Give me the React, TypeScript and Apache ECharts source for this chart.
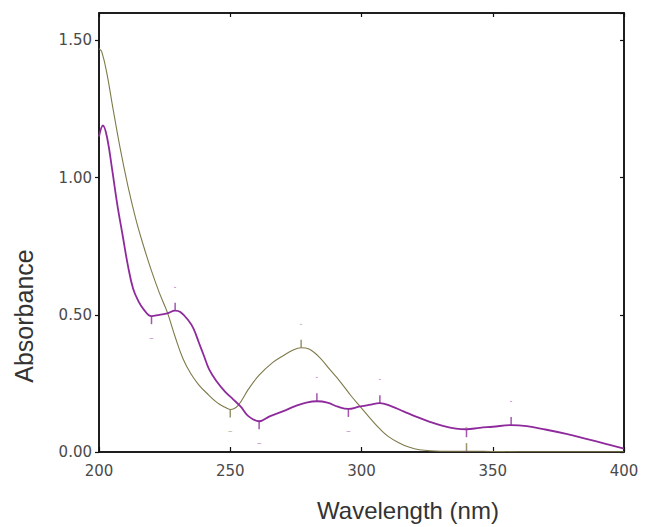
import React, { useEffect, useRef } from "react";
import * as echarts from "echarts";

// Olive (brown-green) spectrum
const oliveX = [200, 201, 203, 205, 208, 211, 214, 217, 220, 223, 226, 229, 232, 235, 238, 241, 245, 248, 250, 253, 257, 261, 266, 270, 274, 277, 280, 284, 288, 292, 296, 300, 304, 307, 310, 314, 318, 322, 330, 340, 350, 360, 380, 400];
const oliveY = [1.47, 1.46, 1.38, 1.27, 1.11, 0.97, 0.85, 0.75, 0.66, 0.58, 0.51, 0.42, 0.34, 0.285, 0.245, 0.215, 0.18, 0.163, 0.155, 0.17, 0.23, 0.28, 0.325, 0.35, 0.372, 0.38, 0.375, 0.345, 0.3, 0.255, 0.205, 0.16, 0.115, 0.084, 0.058, 0.035, 0.018, 0.008, 0.003, 0.003, 0.002, 0.001, 0.001, 0.001];

// Purple spectrum
const purpleX = [200, 201.5, 203, 205, 207, 209, 211, 213, 215, 217, 220, 223, 226, 229, 231, 234, 236, 238, 240, 242, 245, 248, 251, 254, 257, 261, 265, 270, 275, 279, 283, 287, 291, 295, 299, 303, 307, 311, 316, 321, 326, 331, 336, 340, 345, 350, 357, 363, 370, 378, 386, 393, 400];
const purpleY = [1.15, 1.19, 1.15, 1.03, 0.9, 0.79, 0.68, 0.595, 0.55, 0.52, 0.495, 0.5, 0.505, 0.515, 0.51, 0.48, 0.45, 0.4, 0.35, 0.3, 0.255, 0.22, 0.193, 0.165, 0.13, 0.112, 0.13, 0.148, 0.168, 0.18, 0.185, 0.18, 0.165, 0.157, 0.165, 0.172, 0.178, 0.168, 0.148, 0.128, 0.11, 0.095, 0.085, 0.083, 0.088, 0.092, 0.098, 0.094, 0.082, 0.066, 0.047, 0.03, 0.012];

// Peak / valley picks
const purplePeaks: [number, number][] = [[229, 0.515], [283, 0.185], [307, 0.178], [357, 0.098]];
const purpleValleys: [number, number][] = [[220, 0.495], [261, 0.112], [295, 0.157], [340, 0.083]];
const olivePeaks: [number, number][] = [[277, 0.38], [340, 0.003]];
const oliveValleys: [number, number][] = [[250, 0.155]];

const xTicks = { min: 200, max: 400, interval: 50 };
const yTicks = { min: 0, max: 1.6, interval: 0.5 };

const PURPLE = "#8e2a9c";
const OLIVE = "#7f7a4a";

function zip(xs: number[], ys: number[]) {
  return xs.map((x, i) => [x, ys[i]]);
}

function pickSeries(data: [number, number][], color: string, up: boolean) {
  return {
    type: "scatter",
    data,
    symbol: "rect",
    symbolSize: [1.5, 8],
    symbolOffset: [0, up ? -4 : 4],
    itemStyle: { color },
    silent: true,
    z: 5,
    label: {
      show: true,
      position: up ? "top" : "bottom",
      distance: 10,
      formatter: up ? "\u02d8" : "\u2012",
      fontSize: 7,
      color,
    },
  };
}

export default function App() {
  const ref = useRef<HTMLDivElement>(null);
  useEffect(() => {
    if (!ref.current) return;
    const chart = echarts.init(ref.current, null, { renderer: "svg" });
    const axisLine = { show: true, onZero: false, lineStyle: { color: "#111", width: 1.5 } };
    const labelStyle = {
      color: "#4a4a4a",
      fontSize: 15,
      fontFamily: "DejaVu Sans",
    };
    chart.setOption({
      animation: false,
      backgroundColor: "#ffffff",
      grid: {
        left: 99,
        right: 24,
        top: 13,
        bottom: 75,
        containLabel: false,
        show: true,
        borderColor: "#111",
        borderWidth: 1.5,
        backgroundColor: "transparent",
      },
      xAxis: [
        {
          type: "value",
          ...xTicks,
          position: "bottom",
          axisLine,
          axisTick: { show: true, inside: true, length: 5, lineStyle: { color: "#111", width: 1.2 } },
          axisLabel: { ...labelStyle, margin: 11 },
          splitLine: { show: false },
        },
        {
          type: "value",
          ...xTicks,
          position: "top",
          axisLine,
          axisTick: { show: true, inside: true, length: 4, lineStyle: { color: "#111", width: 1.2 } },
          axisLabel: { show: false },
          splitLine: { show: false },
        },
      ],
      yAxis: [
        {
          type: "value",
          ...yTicks,
          position: "left",
          axisLine,
          axisTick: { show: true, inside: false, length: 4, lineStyle: { color: "#111", width: 1.2 } },
          axisLabel: {
            ...labelStyle,
            margin: 7,
            showMaxLabel: false,
            formatter: (v: number) => (v > 1.55 ? "" : v.toFixed(2)),
          },
          splitLine: { show: false },
        },
        {
          type: "value",
          ...yTicks,
          position: "right",
          axisLine,
          axisTick: { show: true, inside: true, length: 4, lineStyle: { color: "#111", width: 1.2 } },
          axisLabel: { show: false },
          splitLine: { show: false },
        },
      ],
      graphic: [
        {
          type: "text",
          x: 24,
          y: 316,
          rotation: Math.PI / 2,
          style: {
            text: "Absorbance",
            fontSize: 25,
            fontFamily: "Liberation Sans",
            fill: "#333",
            align: "center",
            verticalAlign: "middle",
          },
        },
        {
          type: "text",
          x: 408,
          y: 510,
          style: {
            text: "Wavelength (nm)",
            fontSize: 24,
            fontFamily: "Liberation Sans",
            fill: "#333",
            align: "center",
            verticalAlign: "middle",
          },
        },
      ],
      series: [
        {
          type: "line",
          data: zip(oliveX, oliveY),
          smooth: 0.4,
          showSymbol: false,
          lineStyle: { color: OLIVE, width: 1.1 },
          z: 3,
        },
        {
          type: "line",
          data: zip(purpleX, purpleY),
          smooth: 0.4,
          showSymbol: false,
          lineStyle: { color: PURPLE, width: 1.8 },
          z: 4,
        },
        pickSeries(purplePeaks, PURPLE, true),
        pickSeries(purpleValleys, PURPLE, false),
        pickSeries(olivePeaks, OLIVE, true),
        pickSeries(oliveValleys, OLIVE, false),
      ],
    });
    return () => chart.dispose();
  }, []);
  return (
    <div
      ref={ref}
      style={{ position: "fixed", left: 0, top: 0, width: 648, height: 527 }}
    />
  );
}
